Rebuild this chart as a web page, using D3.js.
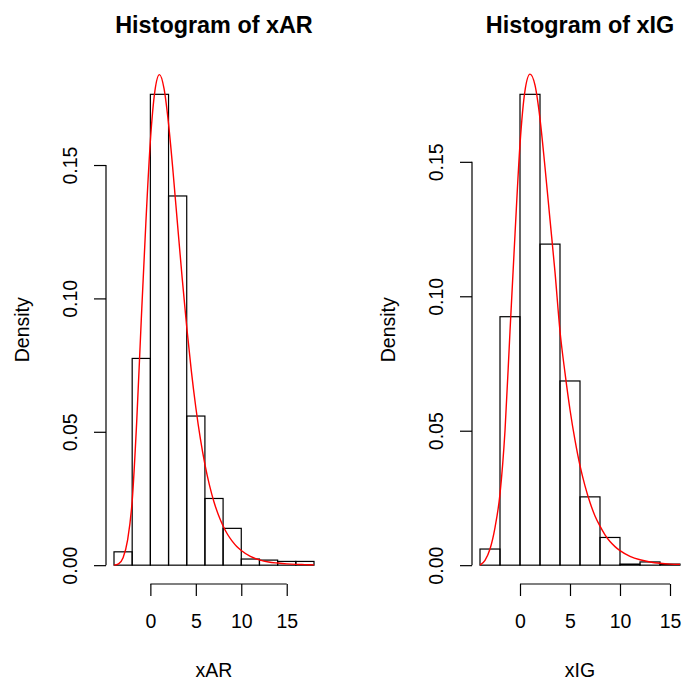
<!DOCTYPE html>
<html>
<head>
<meta charset="utf-8">
<script src="https://cdn.jsdelivr.net/npm/d3@7"></script>
<style>
  body { margin: 0; background: #fff; }
  svg { display: block; }
  text { font-family: "Liberation Sans", Arial, Helvetica, sans-serif; fill: #000; }
</style>
</head>
<body>
<svg width="684" height="682"></svg>
<script>
var svg = d3.select('svg');

// histogram breaks and densities
var arBreaks = [-4, -2, 0, 2, 4, 6, 8, 10, 12, 14, 16, 18];
var arDensity = [0.0050, 0.0775, 0.1765, 0.1384, 0.0559, 0.0250, 0.0138, 0.0023, 0.0019, 0.0014, 0.0014];

var igBreaks = [-4, -2, 0, 2, 4, 6, 8, 10, 12, 14, 16];
var igDensity = [0.0060, 0.0924, 0.1751, 0.1194, 0.0685, 0.0254, 0.0103, 0.0004, 0.0012, 0.0004];

// red density curves, sampled by eye
var arCurveX = [-4, -3.5, -3, -2.5, -2, -1.5, -1, -0.5, 0, 0.5, 1, 1.5, 2, 2.5, 3, 3.5, 4, 4.5, 5, 5.5, 6, 6.5, 7, 7.5, 8, 8.5, 9, 9.5, 10, 11, 12, 13, 14, 15, 16, 17, 18];
var arCurveY = [0.0000, 0.0005, 0.0028, 0.0095, 0.0240, 0.0540, 0.0920, 0.1280, 0.1590, 0.1778, 0.1839, 0.1787, 0.1654, 0.1473, 0.1273, 0.1076, 0.0893, 0.0730, 0.0591, 0.0474, 0.0378, 0.0300, 0.0237, 0.0187, 0.0147, 0.0115, 0.0090, 0.0070, 0.0055, 0.0033, 0.0020, 0.0012, 0.0008, 0.0005, 0.0003, 0.0002, 0.0001];

var igCurveX = [-4, -3.5, -3, -2.5, -2, -1.5, -1, -0.5, 0, 0.5, 1, 1.5, 2, 2.5, 3, 3.5, 4, 4.5, 5, 5.5, 6, 6.5, 7, 7.5, 8, 8.5, 9, 9.5, 10, 11, 12, 13, 14, 15, 16];
var igCurveY = [0.0000, 0.0018, 0.0060, 0.0140, 0.0265, 0.0500, 0.0870, 0.1230, 0.1565, 0.1765, 0.1826, 0.1785, 0.1660, 0.1480, 0.1285, 0.1090, 0.0870, 0.0715, 0.0578, 0.0465, 0.0370, 0.0295, 0.0233, 0.0183, 0.0145, 0.0113, 0.0088, 0.0069, 0.0054, 0.0033, 0.0020, 0.0012, 0.0007, 0.0004, 0.0003];

var xTicks = [0, 5, 10, 15];
var yTicks = [0, 0.05, 0.10, 0.15];

// plot region inside each panel (panel is 366 wide, right one runs off the edge)
var plotLeft = 106, plotWidth = 216, plotTop = 75.5, plotBottom = 584;

function drawPanel(offset, breaks, density, cx, cy, name) {
    var g = svg.append("g").attr("transform", "translate(" + offset + ",0)");

    var lo = breaks[0], hi = breaks[breaks.length - 1];
    var padX = (hi - lo) * 0.04;
    var x = d3.scaleLinear()
        .domain([lo - padX, hi + padX])
        .range([plotLeft, plotLeft + plotWidth]);

    var ymax = d3.max(density);
    var y = d3.scaleLinear()
        .domain([-ymax * 0.04, ymax * 1.04])
        .range([plotBottom, plotTop]);

    var bins = density.map(function (d, i) {
        return {x0: breaks[i], x1: breaks[i + 1], d: d};
    });

    g.selectAll("rect")
        .data(bins)
        .enter()
        .append("rect")
        .attr("x", function (d) { return x(d.x0); })
        .attr("y", function (d) { return y(d.d); })
        .attr("width", function (d) { return x(d.x1) - x(d.x0); })
        .attr("height", function (d) { return y(0) - y(d.d); })
        .attr("fill", "none")
        .attr("stroke", "black")
        .attr("stroke-width", 1.2);

    var line = d3.line()
        .x(function (d) { return x(d[0]); })
        .y(function (d) { return y(d[1]); })
        .curve(d3.curveMonotoneX);

    g.append("path")
        .datum(cx.map(function (v, i) { return [v, cy[i]]; }))
        .attr("d", line)
        .attr("fill", "none")
        .attr("stroke", "red")
        .attr("stroke-width", 1.4);

    // x axis, R style: line from first to last tick
    var xa = g.append("g")
        .attr("transform", "translate(0," + plotBottom + ")")
        .call(d3.axisBottom(x).tickValues(xTicks).tickSize(12).tickPadding(26)
            .tickFormat(d3.format("d")));
    xa.select(".domain").remove();
    xa.append("line")
        .attr("x1", x(xTicks[0])).attr("x2", x(xTicks[xTicks.length - 1]))
        .attr("stroke", "black").attr("stroke-width", 1.2);
    xa.selectAll(".tick line").attr("stroke-width", 1.2);
    xa.selectAll("text")
        .attr("dy", null)
        .attr("y", 44)
        .style("font-size", "19.5px")
        .style("font-family", "'Liberation Sans', Arial, sans-serif")
        .attr("fill", "black");

    // y axis with rotated labels
    var ya = g.append("g")
        .attr("transform", "translate(" + plotLeft + ",0)")
        .call(d3.axisLeft(y).tickValues(yTicks).tickSize(12).tickFormat(d3.format(".2f")));
    ya.select(".domain").remove();
    ya.append("line")
        .attr("y1", y(yTicks[0])).attr("y2", y(yTicks[yTicks.length - 1]))
        .attr("stroke", "black").attr("stroke-width", 1.2);
    ya.selectAll(".tick line").attr("stroke-width", 1.2);
    ya.selectAll("text")
        .attr("x", null).attr("dy", null)
        .attr("text-anchor", "middle")
        .attr("transform", "translate(-36,0) rotate(-90)")
        .attr("dominant-baseline", "central")
        .style("font-size", "19.5px")
        .style("font-family", "'Liberation Sans', Arial, sans-serif")
        .attr("fill", "black");

    var cxMid = plotLeft + plotWidth / 2;

    g.append("text")
        .attr("x", cxMid)
        .attr("y", 33)
        .attr("text-anchor", "middle")
        .style("font-size", "23.4px")
        .style("font-weight", "bold")
        .text("Histogram of " + name);

    g.append("text")
        .attr("x", cxMid)
        .attr("y", 677)
        .attr("text-anchor", "middle")
        .style("font-size", "19.5px")
        .text(name);

    g.append("text")
        .attr("transform", "translate(22," + ((plotTop + plotBottom) / 2) + ") rotate(-90)")
        .attr("text-anchor", "middle")
        .attr("dominant-baseline", "central")
        .style("font-size", "19.5px")
        .text("Density");
}

drawPanel(0, arBreaks, arDensity, arCurveX, arCurveY, "xAR");
drawPanel(366, igBreaks, igDensity, igCurveX, igCurveY, "xIG");
</script>
</body>
</html>
